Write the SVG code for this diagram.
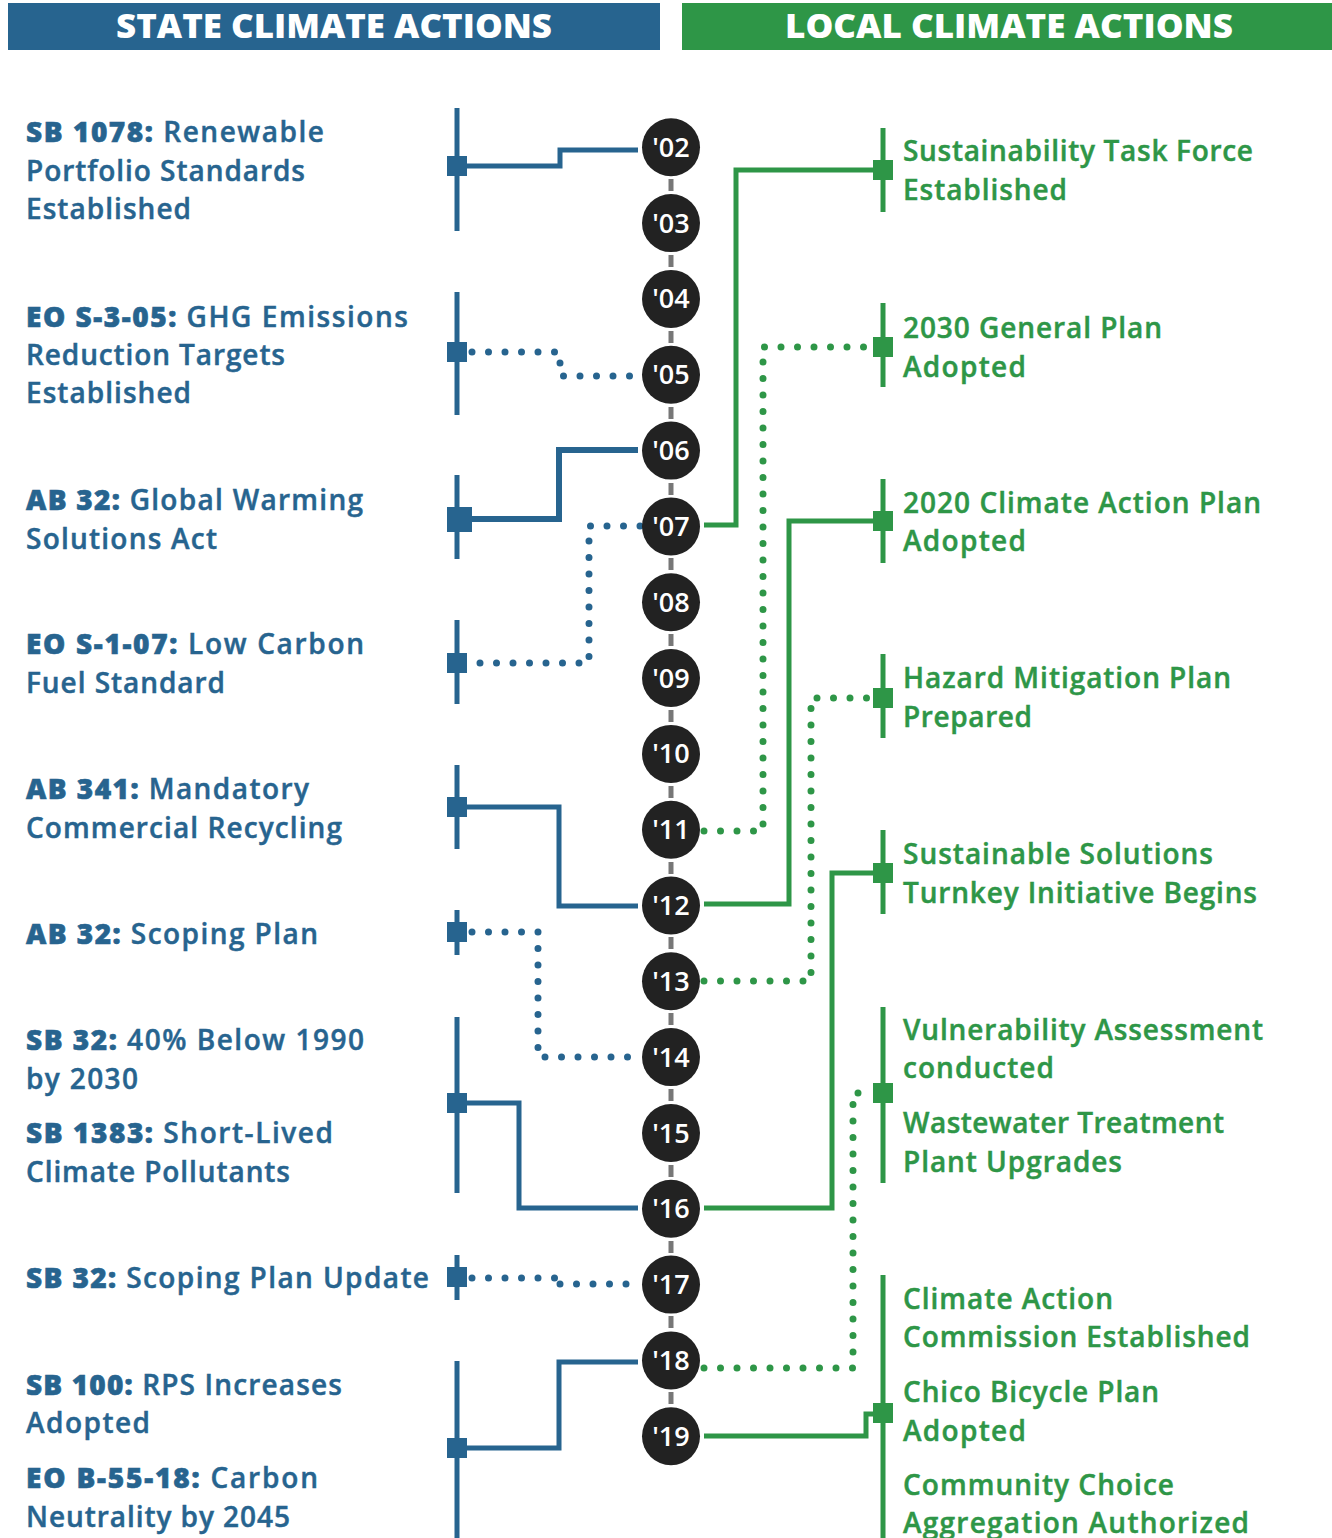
<svg xmlns="http://www.w3.org/2000/svg" width="1332" height="1538" viewBox="0 0 1332 1538">
<style>
.hdr{font-family:"Open Sans","Noto Sans","Liberation Sans",sans-serif;font-weight:800;font-size:33px;fill:#fff}
.t{font-family:"Open Sans","Noto Sans","Liberation Sans",sans-serif;font-weight:600;font-size:28px;stroke-width:0.45px}
.b{font-weight:800;stroke-width:0.6px}
.lt{fill:#27648f;stroke:#27648f}
.rt{fill:#2e9647;stroke:#2e9647}
.yr{font-family:"Open Sans","Noto Sans","Liberation Sans",sans-serif;font-weight:600;font-size:27px;fill:#fff;text-anchor:middle}
.circ{fill:#222}
.stub{stroke:#777;stroke-width:5}
.bar-l{stroke:#27648f;stroke-width:5}
.bar-r{stroke:#2e9647;stroke-width:5}
.sq-l{fill:#27648f}
.sq-r{fill:#2e9647}
.cl{fill:none;stroke:#27648f;stroke-width:5}
.cr{fill:none;stroke:#2e9647;stroke-width:5}
.dl{fill:none;stroke:#27648f;stroke-width:7;stroke-linecap:round;stroke-dasharray:0 16.5}
.dr{fill:none;stroke:#2e9647;stroke-width:7;stroke-linecap:round;stroke-dasharray:0 16.5}
</style>
<g id="headers">
<rect x="8" y="3" width="652" height="47" fill="#27648f"/>
<text class="hdr" x="116" y="38" textLength="436" lengthAdjust="spacingAndGlyphs">STATE CLIMATE ACTIONS</text>
<rect x="682" y="3" width="650" height="47" fill="#2e9647"/>
<text class="hdr" x="785" y="38" textLength="448" lengthAdjust="spacingAndGlyphs">LOCAL CLIMATE ACTIONS</text>
</g>
<g id="connectors">
<path class="cl" d="M467,166 H560 V150 H638"/>
<path class="cl" style="stroke-width:6" d="M472,519 H559 V450 H638"/>
<path class="cl" d="M467,807 H559 V906 H638"/>
<path class="cl" d="M467,1103 H519 V1208 H638"/>
<path class="cl" d="M467,1448 H559 V1362 H638"/>
<path class="dl" d="M472,352 H560 V376 H640"/>
<path class="dl" d="M640,526 H589 V663 H472"/>
<path class="dl" d="M472,932 H538 V1057 H640"/>
<path class="dl" d="M472,1278 H560 M560,1284 H640"/>
<path class="cr" d="M704,525 H736 V170 H873"/>
<path class="cr" d="M704,904 H789 V521 H873"/>
<path class="cr" d="M704,1208 H832 V873 H873"/>
<path class="cr" d="M704,1436 H866 V1414 H873"/>
<path class="dr" d="M704,831 H763 V347 H872"/>
<path class="dr" d="M704,981 H811 V698 H872"/>
<path class="dr" d="M704,1368 H853 V1093 H872"/>
</g>
<g id="timeline">
<line class="stub" x1="671" y1="179" x2="671" y2="191"/>
<line class="stub" x1="671" y1="255" x2="671" y2="267"/>
<line class="stub" x1="671" y1="331" x2="671" y2="343"/>
<line class="stub" x1="671" y1="407" x2="671" y2="419"/>
<line class="stub" x1="671" y1="483" x2="671" y2="495"/>
<line class="stub" x1="671" y1="558" x2="671" y2="570"/>
<line class="stub" x1="671" y1="634" x2="671" y2="646"/>
<line class="stub" x1="671" y1="710" x2="671" y2="722"/>
<line class="stub" x1="671" y1="786" x2="671" y2="798"/>
<line class="stub" x1="671" y1="862" x2="671" y2="874"/>
<line class="stub" x1="671" y1="937" x2="671" y2="949"/>
<line class="stub" x1="671" y1="1013" x2="671" y2="1025"/>
<line class="stub" x1="671" y1="1089" x2="671" y2="1101"/>
<line class="stub" x1="671" y1="1165" x2="671" y2="1177"/>
<line class="stub" x1="671" y1="1241" x2="671" y2="1253"/>
<line class="stub" x1="671" y1="1316" x2="671" y2="1328"/>
<line class="stub" x1="671" y1="1392" x2="671" y2="1404"/>
</g>
<g id="y02"><circle class="circ" cx="671" cy="147.3" r="29"/><text class="yr" x="671" y="156.8">'02</text></g>
<g id="y03"><circle class="circ" cx="671" cy="223.1" r="29"/><text class="yr" x="671" y="232.6">'03</text></g>
<g id="y04"><circle class="circ" cx="671" cy="298.9" r="29"/><text class="yr" x="671" y="308.4">'04</text></g>
<g id="y05"><circle class="circ" cx="671" cy="374.8" r="29"/><text class="yr" x="671" y="384.3">'05</text></g>
<g id="y06"><circle class="circ" cx="671" cy="450.6" r="29"/><text class="yr" x="671" y="460.1">'06</text></g>
<g id="y07"><circle class="circ" cx="671" cy="526.4" r="29"/><text class="yr" x="671" y="535.9">'07</text></g>
<g id="y08"><circle class="circ" cx="671" cy="602.2" r="29"/><text class="yr" x="671" y="611.7">'08</text></g>
<g id="y09"><circle class="circ" cx="671" cy="678.0" r="29"/><text class="yr" x="671" y="687.5">'09</text></g>
<g id="y10"><circle class="circ" cx="671" cy="753.9" r="29"/><text class="yr" x="671" y="763.4">'10</text></g>
<g id="y11"><circle class="circ" cx="671" cy="829.7" r="29"/><text class="yr" x="671" y="839.2">'11</text></g>
<g id="y12"><circle class="circ" cx="671" cy="905.5" r="29"/><text class="yr" x="671" y="915.0">'12</text></g>
<g id="y13"><circle class="circ" cx="671" cy="981.3" r="29"/><text class="yr" x="671" y="990.8">'13</text></g>
<g id="y14"><circle class="circ" cx="671" cy="1057.1" r="29"/><text class="yr" x="671" y="1066.6">'14</text></g>
<g id="y15"><circle class="circ" cx="671" cy="1133.0" r="29"/><text class="yr" x="671" y="1142.5">'15</text></g>
<g id="y16"><circle class="circ" cx="671" cy="1208.8" r="29"/><text class="yr" x="671" y="1218.3">'16</text></g>
<g id="y17"><circle class="circ" cx="671" cy="1284.6" r="29"/><text class="yr" x="671" y="1294.1">'17</text></g>
<g id="y18"><circle class="circ" cx="671" cy="1360.4" r="29"/><text class="yr" x="671" y="1369.9">'18</text></g>
<g id="y19"><circle class="circ" cx="671" cy="1436.2" r="29"/><text class="yr" x="671" y="1445.7">'19</text></g>

<g id="sb1078">
<line class="bar-l" x1="457" y1="108" x2="457" y2="231"/><rect class="sq-l" x="447" y="156" width="20" height="20"/>
<text class="t lt" x="26" y="142" textLength="298"><tspan class="b">SB 1078:</tspan> Renewable</text>
<text class="t lt" x="26" y="181" textLength="279">Portfolio Standards</text>
<text class="t lt" x="26" y="219" textLength="165">Established</text>
</g>
<g id="eos305">
<line class="bar-l" x1="457" y1="292" x2="457" y2="415"/><rect class="sq-l" x="447" y="342" width="20" height="20"/>
<text class="t lt" x="26" y="327" textLength="382"><tspan class="b">EO S-3-05:</tspan> GHG Emissions</text>
<text class="t lt" x="26" y="365" textLength="259">Reduction Targets</text>
<text class="t lt" x="26" y="403" textLength="165">Established</text>
</g>
<g id="ab32">
<line class="bar-l" x1="457" y1="475" x2="457" y2="559"/><rect class="sq-l" x="447" y="507" width="25" height="25"/>
<text class="t lt" x="26" y="510" textLength="337"><tspan class="b">AB 32:</tspan> Global Warming</text>
<text class="t lt" x="26" y="549" textLength="191">Solutions Act</text>
</g>
<g id="eos107">
<line class="bar-l" x1="457" y1="620" x2="457" y2="704"/><rect class="sq-l" x="447" y="653" width="20" height="20"/>
<text class="t lt" x="26" y="654" textLength="338"><tspan class="b">EO S-1-07:</tspan> Low Carbon</text>
<text class="t lt" x="26" y="693" textLength="199">Fuel Standard</text>
</g>
<g id="ab341">
<line class="bar-l" x1="457" y1="765" x2="457" y2="849"/><rect class="sq-l" x="447" y="797" width="20" height="20"/>
<text class="t lt" x="26" y="799" textLength="283"><tspan class="b">AB 341:</tspan> Mandatory</text>
<text class="t lt" x="26" y="838" textLength="316">Commercial Recycling</text>
</g>
<g id="ab32scoping">
<line class="bar-l" x1="457" y1="910" x2="457" y2="955"/><rect class="sq-l" x="447" y="922" width="20" height="20"/>
<text class="t lt" x="26" y="944" textLength="292"><tspan class="b">AB 32:</tspan> Scoping Plan</text>
</g>
<g id="sb32sb1383">
<line class="bar-l" x1="457" y1="1017" x2="457" y2="1193"/><rect class="sq-l" x="447" y="1093" width="20" height="20"/>
<text class="t lt" x="26" y="1050" textLength="338"><tspan class="b">SB 32:</tspan> 40% Below 1990</text>
<text class="t lt" x="26" y="1089" textLength="112">by 2030</text>
<text class="t lt" x="26" y="1143" textLength="307"><tspan class="b">SB 1383:</tspan> Short-Lived</text>
<text class="t lt" x="26" y="1182" textLength="264">Climate Pollutants</text>
</g>
<g id="sb32update">
<line class="bar-l" x1="457" y1="1255" x2="457" y2="1300"/><rect class="sq-l" x="447" y="1267" width="20" height="20"/>
<text class="t lt" x="26" y="1288" textLength="403"><tspan class="b">SB 32:</tspan> Scoping Plan Update</text>
</g>
<g id="sb100eob5518">
<line class="bar-l" x1="457" y1="1361" x2="457" y2="1538"/><rect class="sq-l" x="447" y="1438" width="20" height="20"/>
<text class="t lt" x="26" y="1395" textLength="316"><tspan class="b">SB 100:</tspan> RPS Increases</text>
<text class="t lt" x="26" y="1433" textLength="124">Adopted</text>
<text class="t lt" x="26" y="1488" textLength="292"><tspan class="b">EO B-55-18:</tspan> Carbon</text>
<text class="t lt" x="26" y="1527" textLength="264">Neutrality by 2045</text>
</g>

<g id="taskforce">
<line class="bar-r" x1="883" y1="128" x2="883" y2="212"/><rect class="sq-r" x="873" y="160" width="20" height="20"/>
<text class="t rt" x="903" y="161" textLength="350">Sustainability Task Force</text>
<text class="t rt" x="903" y="200" textLength="164">Established</text>
</g>
<g id="generalplan">
<line class="bar-r" x1="883" y1="303" x2="883" y2="387"/><rect class="sq-r" x="873" y="337" width="20" height="20"/>
<text class="t rt" x="903" y="338" textLength="259">2030 General Plan</text>
<text class="t rt" x="903" y="377" textLength="123">Adopted</text>
</g>
<g id="cap2020">
<line class="bar-r" x1="883" y1="479" x2="883" y2="563"/><rect class="sq-r" x="873" y="511" width="20" height="20"/>
<text class="t rt" x="903" y="513" textLength="358">2020 Climate Action Plan</text>
<text class="t rt" x="903" y="551" textLength="123">Adopted</text>
</g>
<g id="hazard">
<line class="bar-r" x1="883" y1="654" x2="883" y2="738"/><rect class="sq-r" x="873" y="688" width="20" height="20"/>
<text class="t rt" x="903" y="688" textLength="328">Hazard Mitigation Plan</text>
<text class="t rt" x="903" y="727" textLength="129">Prepared</text>
</g>
<g id="turnkey">
<line class="bar-r" x1="883" y1="830" x2="883" y2="914"/><rect class="sq-r" x="873" y="863" width="20" height="20"/>
<text class="t rt" x="903" y="864" textLength="310">Sustainable Solutions</text>
<text class="t rt" x="903" y="903" textLength="354">Turnkey Initiative Begins</text>
</g>
<g id="vulnerability">
<line class="bar-r" x1="883" y1="1007" x2="883" y2="1183"/><rect class="sq-r" x="873" y="1083" width="20" height="20"/>
<text class="t rt" x="903" y="1040" textLength="360">Vulnerability Assessment</text>
<text class="t rt" x="903" y="1078" textLength="151">conducted</text>
<text class="t rt" x="903" y="1133" textLength="321">Wastewater Treatment</text>
<text class="t rt" x="903" y="1172" textLength="219">Plant Upgrades</text>
</g>
<g id="commission">
<line class="bar-r" x1="883" y1="1275" x2="883" y2="1538"/><rect class="sq-r" x="873" y="1403" width="20" height="20"/>
<text class="t rt" x="903" y="1309" textLength="210">Climate Action</text>
<text class="t rt" x="903" y="1347" textLength="347">Commission Established</text>
<text class="t rt" x="903" y="1402" textLength="256">Chico Bicycle Plan</text>
<text class="t rt" x="903" y="1441" textLength="123">Adopted</text>
<text class="t rt" x="903" y="1495" textLength="271">Community Choice</text>
<text class="t rt" x="903" y="1533" textLength="346">Aggregation Authorized</text>
</g>
</svg>
